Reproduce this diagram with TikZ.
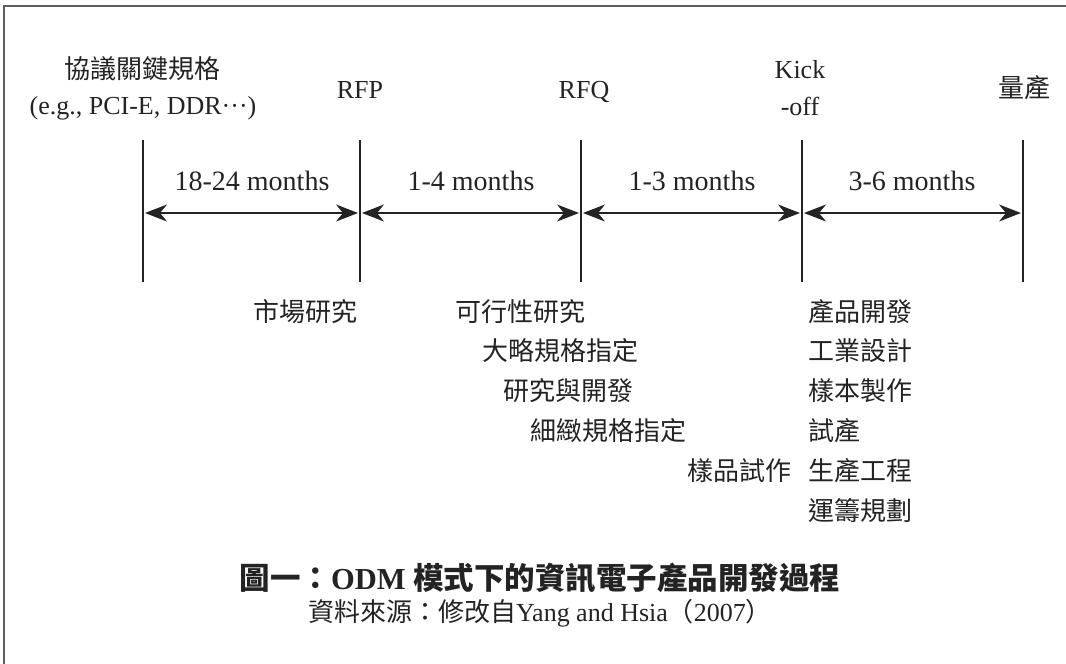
\documentclass[tikz,border=0pt]{standalone}
\usepackage{fontspec}
\setmainfont{Liberation Serif}
\newfontfamily\cjk{Noto Sans CJK TC}
\usetikzlibrary{arrows.meta}
\definecolor{ink}{RGB}{35,35,35}
\definecolor{frame}{RGB}{95,95,95}
\tikzset{
  lbl/.style={inner sep=0pt, text=ink, font=\fontsize{26}{30}\selectfont},
  dur/.style={lbl, anchor=base, font=\fontsize{28}{32}\selectfont},
  tick/.style={draw=ink, line width=1.4pt},
  span/.style={draw=ink, line width=1.3pt, {Stealth[length=22pt,width=17pt,inset=7pt]}-{Stealth[length=22pt,width=17pt,inset=7pt]}, shorten <=2pt, shorten >=2pt},
  border/.style={draw=frame, line width=2pt}
}
\begin{document}
\begin{tikzpicture}[x=1pt,y=-1pt]
\useasboundingbox (0,0) rectangle (1066,664);
% frame
\coordinate (fTL) at (4,6);
\coordinate (fTR) at (1066,6);
\coordinate (fBL) at (4,664);
\draw[border] (fBL) -- (fTL) -- (fTR);
% milestone ticks
\foreach \i/\x in {1/143,2/360,3/581,4/802,5/1023}{
  \coordinate (t\i) at (\x,140);
  \coordinate (b\i) at (\x,282);
  \coordinate (m\i) at (\x,213);
  \draw[tick] (t\i) -- (b\i);
}
% spans
\draw[span] (m1) -- (m2);
\draw[span] (m2) -- (m3);
\draw[span] (m3) -- (m4);
\draw[span] (m4) -- (m5);
% span labels
\node[dur] (d1) at (252,190) {18-24 months};
\node[dur] (d2) at (471,190) {1-4 months};
\node[dur] (d3) at (692,190) {1-3 months};
\node[dur] (d4) at (912,190) {3-6 months};
% milestone labels
\node[lbl, anchor=base] (ms1a) at (142,78) {\cjk 協議關鍵規格};
\node[lbl, anchor=base] (ms1b) at (143,114) {(e.g., PCI-E, DDR···)};
\node[lbl, anchor=base] (ms2) at (360,98) {RFP};
\node[lbl, anchor=base] (ms3) at (584,98) {RFQ};
\node[lbl, anchor=base] (ms4a) at (800,78) {Kick};
\node[lbl, anchor=base] (ms4b) at (800,115) {-off};
\node[lbl, anchor=base] (ms5) at (1024,97) {\cjk 量產};
% activities
\node[lbl, anchor=base east] (a1) at (358,321) {\cjk 市場研究};
\node[lbl, anchor=base west] (a2) at (455,321) {\cjk 可行性研究};
\node[lbl, anchor=base west] (a3) at (482,360) {\cjk 大略規格指定};
\node[lbl, anchor=base west] (a4) at (503,400) {\cjk 研究與開發};
\node[lbl, anchor=base west] (a5) at (530,440) {\cjk 細緻規格指定};
\node[lbl, anchor=base east] (a6) at (792,480) {\cjk 樣品試作};
\node[lbl, anchor=base west] (c1) at (808,321) {\cjk 產品開發};
\node[lbl, anchor=base west] (c2) at (808,360) {\cjk 工業設計};
\node[lbl, anchor=base west] (c3) at (808,400) {\cjk 樣本製作};
\node[lbl, anchor=base west] (c4) at (808,440) {\cjk 試產};
\node[lbl, anchor=base west] (c5) at (808,480) {\cjk 生產工程};
\node[lbl, anchor=base west] (c6) at (808,520) {\cjk 運籌規劃};
% caption
\node[lbl, anchor=base, font=\fontsize{30.5}{34}\selectfont\bfseries] (cap) at (540,589)
  {{\cjk 圖一：}ODM {\cjk 模式下的資訊電子產品開發過程}};
\node[lbl, anchor=base, font=\fontsize{26}{30}\selectfont] (src) at (540,621)
  {{\cjk 資料來源：修改自}Yang and Hsia{\cjk（}2007{\cjk）}};
\end{tikzpicture}
\end{document}
